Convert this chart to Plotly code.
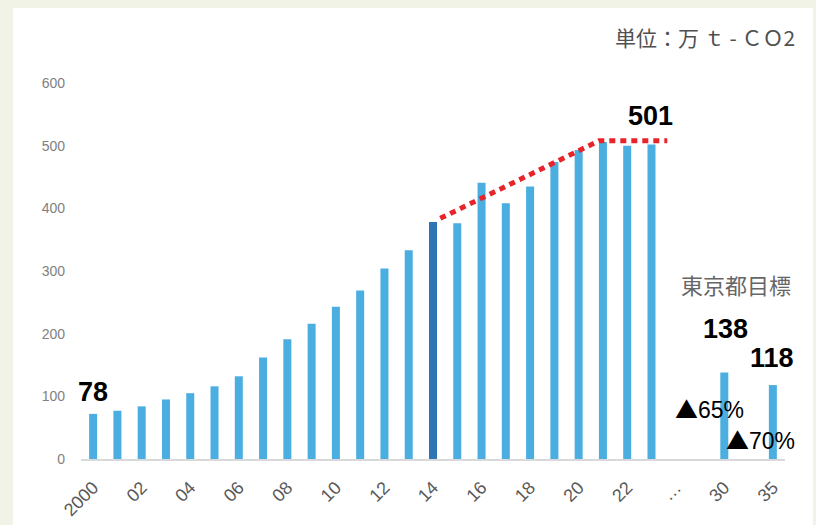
import plotly.graph_objects as go

# ---- data ----
years = ["2000", "2001", "2002", "2003", "2004", "2005", "2006", "2007", "2008", "2009",
         "2010", "2011", "2012", "2013", "2014", "2015", "2016", "2017", "2018", "2019",
         "2020", "2021", "2022", "2023"]
values = [72, 77, 84, 95, 105, 116, 132, 162, 191, 216,
          243, 269, 304, 333, 378, 376, 441, 408, 435, 474,
          493, 506, 500, 502]
gap_categories = ["…", "2029"]          # "…" slot plus an empty slot
target_categories = ["2030", "gap", "2035"]
target_values = [138, None, 118]
highlight_year = "2014"

tick_labels = ["2000", "02", "04", "06", "08", "10", "12", "14", "16", "18", "20", "22", "…", "30", "35"]

trend_years = [2014.3, 2020.85, 2023.65]
trend_values = [384, 508, 508]

categories = years + gap_categories + target_categories
pos = {c: i for i, c in enumerate(categories)}

LIGHT = "#4BAEE0"
DARK = "#2E75B6"
BG = "#F0F3E6"

fig = go.Figure()

fig.add_trace(go.Bar(
    x=[pos[y] for y in years], y=values, width=0.33,
    marker=dict(color=[DARK if y == highlight_year else LIGHT for y in years], line=dict(width=0)),
    hoverinfo="x+y", showlegend=False))

fig.add_trace(go.Bar(
    x=[pos[c] for c in target_categories], y=target_values, width=0.33,
    marker=dict(color=LIGHT, line=dict(width=0)), showlegend=False))

fig.add_trace(go.Scatter(
    x=[t - 2000 for t in trend_years], y=trend_values, mode="lines",
    line=dict(color="#E8232A", width=5, dash="6px,5px"), showlegend=False, hoverinfo="skip"))

tickvals = list(range(0, 24, 2)) + [pos["…"], pos["2030"], pos["2035"]]

fig.update_layout(
    width=816, height=525,
    margin=dict(l=81, r=31, t=83, b=66),
    paper_bgcolor=BG, plot_bgcolor="white",
    xaxis=dict(range=[-0.5, len(categories) - 0.5], tickvals=tickvals, ticktext=tick_labels,
               tickangle=-45, showgrid=False, zeroline=False, showline=True, automargin=False,
               linecolor="#D9D9D9", linewidth=2, ticks="", ticklabelstandoff=9,
               tickfont=dict(family="Liberation Sans, Arial", size=18, color="#595959")),
    yaxis=dict(range=[0, 600], tickvals=[0, 100, 200, 300, 400, 500, 600], showgrid=False,
               zeroline=False, showline=False, ticks="", ticklabelstandoff=15, automargin=False,
               tickfont=dict(family="Liberation Sans Narrow, Liberation Sans, Arial", size=14, color="#7F7F7F")),
    font=dict(family="Liberation Sans, Arial"),
    shapes=[dict(type="rect", xref="paper", yref="paper",
                 x0=(13 - 81) / 704, x1=(813 - 81) / 704, y0=-0.3, y1=(459 - 8) / 376,
                 fillcolor="white", line=dict(width=0), layer="below")],
)

ann_bold = dict(family="Liberation Sans, Arial", size=27, color="black")
fig.add_annotation(x=0, y=107, text="<b>78</b>", showarrow=False, font=ann_bold)
fig.add_annotation(x=22.94, y=548, text="<b>501</b>", showarrow=False, font=ann_bold)
fig.add_annotation(x=26.03, y=207, text="<b>138</b>", showarrow=False, font=ann_bold)
fig.add_annotation(x=27.97, y=161, text="<b>118</b>", showarrow=False, font=ann_bold)
ann_norm = dict(family="Liberation Sans, Arial", size=23, color="black")
tri = "<span style='font-family:Noto Sans CJK JP'>▲</span>"
fig.add_annotation(x=25.4, y=81, text=tri + "65%", showarrow=False, font=ann_norm)
fig.add_annotation(x=27.47, y=32, text=tri + "70%", showarrow=False, font=ann_norm)
fig.add_annotation(x=26.5, y=279, text="東京都目標", showarrow=False,
                   font=dict(family="Noto Sans CJK JP", size=22, color="#666666"))
fig.add_annotation(xref="paper", yref="paper", x=(797 - 81) / 704, y=(459 - 37) / 376,
                   xanchor="right", yanchor="middle", text="単位：万 ｔ - ＣＯ2", showarrow=False,
                   font=dict(family="Noto Sans CJK JP", size=21, color="#505050"))

fig.write_html("out.html", config={"displayModeBar": False},
               post_script="document.body.style.margin='0';document.body.style.background='" + BG + "';")
